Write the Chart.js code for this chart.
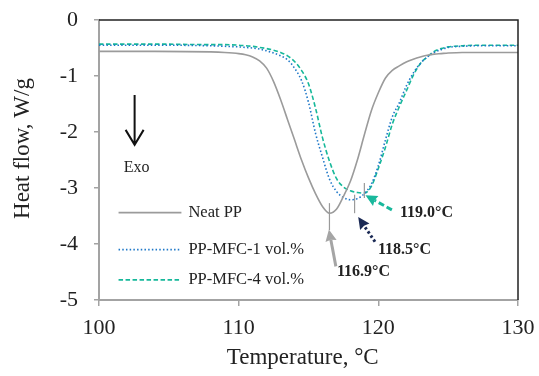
<!DOCTYPE html>
<html>
<head>
<meta charset="utf-8">
<script src="https://cdn.jsdelivr.net/npm/chart.js@4"></script>
<style>
  body { margin: 0; background: #fff; }
  #chart { display: block; }
</style>
</head>
<body>
<canvas id="chart" width="539" height="376"></canvas>
<script>
// Temperature grid (°C) shared by all curves
const temperature = [100, 104, 108, 109, 110, 110.5, 111, 111.5, 112, 112.5, 113, 113.5, 114, 114.5,
  115, 115.5, 116, 116.5, 117, 117.5, 118, 118.5, 119, 119.5, 120, 120.5, 121, 121.5, 122, 122.5,
  123, 123.5, 124, 124.5, 125, 126, 127, 128, 130];

// Heat flow (W/g)
const neatPP = [-0.56, -0.56, -0.57, -0.58, -0.60, -0.62, -0.66, -0.73, -0.86, -1.10, -1.42, -1.78, -2.14, -2.50,
  -2.82, -3.10, -3.33, -3.45, -3.38, -3.15, -2.88, -2.50, -2.05, -1.62, -1.30, -1.04, -0.90, -0.82, -0.75, -0.70,
  -0.66, -0.63, -0.61, -0.60, -0.59, -0.58, -0.58, -0.58, -0.58];
const mfc1 = [-0.45, -0.45, -0.46, -0.47, -0.48, -0.49, -0.50, -0.52, -0.55, -0.59, -0.64, -0.71, -0.86, -1.08,
  -1.47, -2.02, -2.45, -2.84, -3.06, -3.17, -3.21, -3.19, -3.10, -2.93, -2.60, -2.15, -1.73, -1.48, -1.18, -0.95,
  -0.78, -0.66, -0.58, -0.53, -0.49, -0.47, -0.46, -0.46, -0.46];
const mfc4 = [-0.43, -0.43, -0.44, -0.44, -0.45, -0.46, -0.47, -0.49, -0.51, -0.54, -0.58, -0.64, -0.74, -0.90,
  -1.14, -1.57, -2.10, -2.52, -2.83, -2.98, -3.05, -3.08, -3.09, -2.97, -2.65, -2.28, -1.86, -1.55, -1.27, -0.99,
  -0.78, -0.66, -0.56, -0.51, -0.48, -0.46, -0.45, -0.45, -0.45];

const seriesLabels = ['Neat PP', 'PP-MFC-1 vol.%', 'PP-MFC-4 vol.%'];

// Peak temperatures (°C) as marked and labelled
const peakMarks = [116.5, 118.3, 119.0];
const peakLabels = ['116.9°C', '118.5°C', '119.0°C'];

const xTicks = [100, 110, 120, 130];
const yTicks = [0, -1, -2, -3, -4, -5];

const SERIF = '"Liberation Serif", "DejaVu Serif", serif';
const TEXT = '#222';
const AXIS_GREY = '#a3a3a3';

function points(ys) {
  return temperature.map((t, i) => ({ x: t, y: ys[i] }));
}

/**
 * Draw an arrow between two data points (head at the second one)
 */
function drawArrow(ctx, x0, y0, x1, y1, color, dash) {
  const ang = Math.atan2(y1 - y0, x1 - x0);
  const head = 13;
  const bx = x1 - Math.cos(ang) * head * 0.8;
  const by = y1 - Math.sin(ang) * head * 0.8;
  ctx.save();
  ctx.strokeStyle = color;
  ctx.fillStyle = color;
  ctx.lineWidth = 3;
  ctx.setLineDash(dash);
  ctx.beginPath();
  ctx.moveTo(x0, y0);
  ctx.lineTo(bx, by);
  ctx.stroke();
  ctx.setLineDash([]);
  ctx.beginPath();
  ctx.moveTo(x1, y1);
  ctx.lineTo(x1 - Math.cos(ang - 0.45) * head, y1 - Math.sin(ang - 0.45) * head);
  ctx.lineTo(bx, by);
  ctx.lineTo(x1 - Math.cos(ang + 0.45) * head, y1 - Math.sin(ang + 0.45) * head);
  ctx.closePath();
  ctx.fill();
  ctx.restore();
}

/**
 * Frame, legend, Exo arrow and peak annotations
 */
const extras = {
  id: 'extras',
  afterDatasetsDraw(chart) {
    const { ctx, chartArea: a, scales: { x, y } } = chart;

    // black top & right frame
    ctx.save();
    ctx.strokeStyle = '#222';
    ctx.lineWidth = 1.5;
    ctx.beginPath();
    ctx.moveTo(a.left, a.top);
    ctx.lineTo(a.right, a.top);
    ctx.lineTo(a.right, a.bottom);
    ctx.stroke();
    ctx.restore();

    // legend inside plot
    const rows = [-3.44, -4.1, -4.64];
    chart.data.datasets.forEach((ds, i) => {
      const ly = y.getPixelForValue(rows[i]);
      const lx0 = x.getPixelForValue(101.4);
      const lx1 = x.getPixelForValue(105.9);
      ctx.save();
      ctx.strokeStyle = ds.borderColor;
      ctx.lineWidth = ds.borderWidth;
      ctx.setLineDash(ds.borderDash || []);
      ctx.beginPath();
      ctx.moveTo(lx0, ly);
      ctx.lineTo(lx1, ly);
      ctx.stroke();
      ctx.restore();
      ctx.save();
      ctx.fillStyle = TEXT;
      ctx.font = '16.5px ' + SERIF;
      ctx.textBaseline = 'middle';
      ctx.fillText(ds.label, x.getPixelForValue(106.4), ly);
      ctx.restore();
    });

    // Exo arrow
    const ex = x.getPixelForValue(102.55);
    const ey0 = y.getPixelForValue(-1.34);
    const ey1 = y.getPixelForValue(-2.23);
    ctx.save();
    ctx.strokeStyle = '#111';
    ctx.lineWidth = 2;
    ctx.beginPath();
    ctx.moveTo(ex, ey0);
    ctx.lineTo(ex, ey1);
    ctx.moveTo(ex - 9, ey1 - 15);
    ctx.lineTo(ex, ey1);
    ctx.lineTo(ex + 9, ey1 - 15);
    ctx.stroke();
    ctx.fillStyle = TEXT;
    ctx.font = '16px ' + SERIF;
    ctx.textAlign = 'center';
    ctx.textBaseline = 'middle';
    ctx.fillText('Exo', ex + 2, y.getPixelForValue(-2.64));
    ctx.restore();

    // short vertical markers at the peaks
    const markSpans = [[-3.27, -3.75], [-3.12, -3.45], [-2.91, -3.18]];
    ctx.save();
    ctx.strokeStyle = '#9a9a9a';
    ctx.lineWidth = 1.2;
    peakMarks.forEach((t, i) => {
      const px = x.getPixelForValue(t);
      ctx.beginPath();
      ctx.moveTo(px, y.getPixelForValue(markSpans[i][0]));
      ctx.lineTo(px, y.getPixelForValue(markSpans[i][1]));
      ctx.stroke();
    });
    ctx.restore();

    // annotation arrows: tail and head in data coordinates
    const arrows = [
      { from: [116.96, -4.40], to: [116.46, -3.74], color: '#a5a5a5', dash: [] },
      { from: [119.76, -3.96], to: [118.56, -3.52], color: '#1b2a55', dash: [2.5, 2.5] },
      { from: [120.97, -3.39], to: [119.08, -3.13], color: '#19b89c', dash: [6, 3] }
    ];
    arrows.forEach(ar => {
      drawArrow(ctx,
        x.getPixelForValue(ar.from[0]), y.getPixelForValue(ar.from[1]),
        x.getPixelForValue(ar.to[0]), y.getPixelForValue(ar.to[1]),
        ar.color, ar.dash);
    });

    // peak labels
    const labelPos = [[117.04, -4.5], [119.97, -4.11], [121.55, -3.45]];
    ctx.save();
    ctx.fillStyle = TEXT;
    ctx.font = 'bold 16px ' + SERIF;
    ctx.textBaseline = 'middle';
    peakLabels.forEach((s, i) => {
      ctx.fillText(s, x.getPixelForValue(labelPos[i][0]), y.getPixelForValue(labelPos[i][1]));
    });
    ctx.restore();
  }
};

const lineDefaults = {
  pointRadius: 0,
  borderWidth: 1.6,
  fill: false,
  cubicInterpolationMode: 'monotone'
};

new Chart(document.getElementById('chart'), {
  type: 'line',
  data: {
    datasets: [
      { ...lineDefaults, label: seriesLabels[0], data: points(neatPP), borderColor: '#9b9b9b' },
      { ...lineDefaults, label: seriesLabels[1], data: points(mfc1), borderColor: '#1f78c8', borderDash: [1.5, 2.2] },
      { ...lineDefaults, label: seriesLabels[2], data: points(mfc4), borderColor: '#16b89a', borderDash: [4.5, 2.5] }
    ]
  },
  options: {
    responsive: false,
    devicePixelRatio: 1,
    animation: false,
    layout: { padding: { left: 0, right: 21, top: 20, bottom: 0 } },
    plugins: {
      legend: { display: false },
      tooltip: { enabled: false }
    },
    scales: {
      x: {
        type: 'linear',
        min: 100,
        max: 130,
        afterFit: s => { s.height = 76; s.paddingLeft = 0; s.paddingRight = 0; },
        afterBuildTicks: s => { s.ticks = xTicks.map(v => ({ value: v })); },
        border: { display: true, color: AXIS_GREY, width: 2 },
        grid: { display: true, drawOnChartArea: false, drawTicks: true, tickLength: 6, color: AXIS_GREY, lineWidth: 1.5 },
        ticks: { color: TEXT, padding: 9, font: { family: SERIF, size: 22 }, maxRotation: 0 },
        title: {
          display: true,
          text: 'Temperature, °C  ',
          color: TEXT,
          font: { family: SERIF, size: 23 },
          padding: { top: 0, bottom: 4 }
        }
      },
      y: {
        min: -5,
        max: 0,
        afterFit: s => { s.width = 99; s.paddingTop = 0; s.paddingBottom = 0; },
        afterBuildTicks: s => { s.ticks = yTicks.map(v => ({ value: v })); },
        border: { display: true, color: AXIS_GREY, width: 2 },
        grid: { display: true, drawOnChartArea: false, drawTicks: true, tickLength: 5, color: AXIS_GREY, lineWidth: 1.5 },
        ticks: { color: TEXT, padding: 16, font: { family: SERIF, size: 22 } },
        title: {
          display: true,
          text: '    Heat flow, W/g',
          color: TEXT,
          font: { family: SERIF, size: 23 },
          padding: { top: 9, bottom: 0 }
        }
      }
    }
  },
  plugins: [extras]
});
</script>
</body>
</html>
